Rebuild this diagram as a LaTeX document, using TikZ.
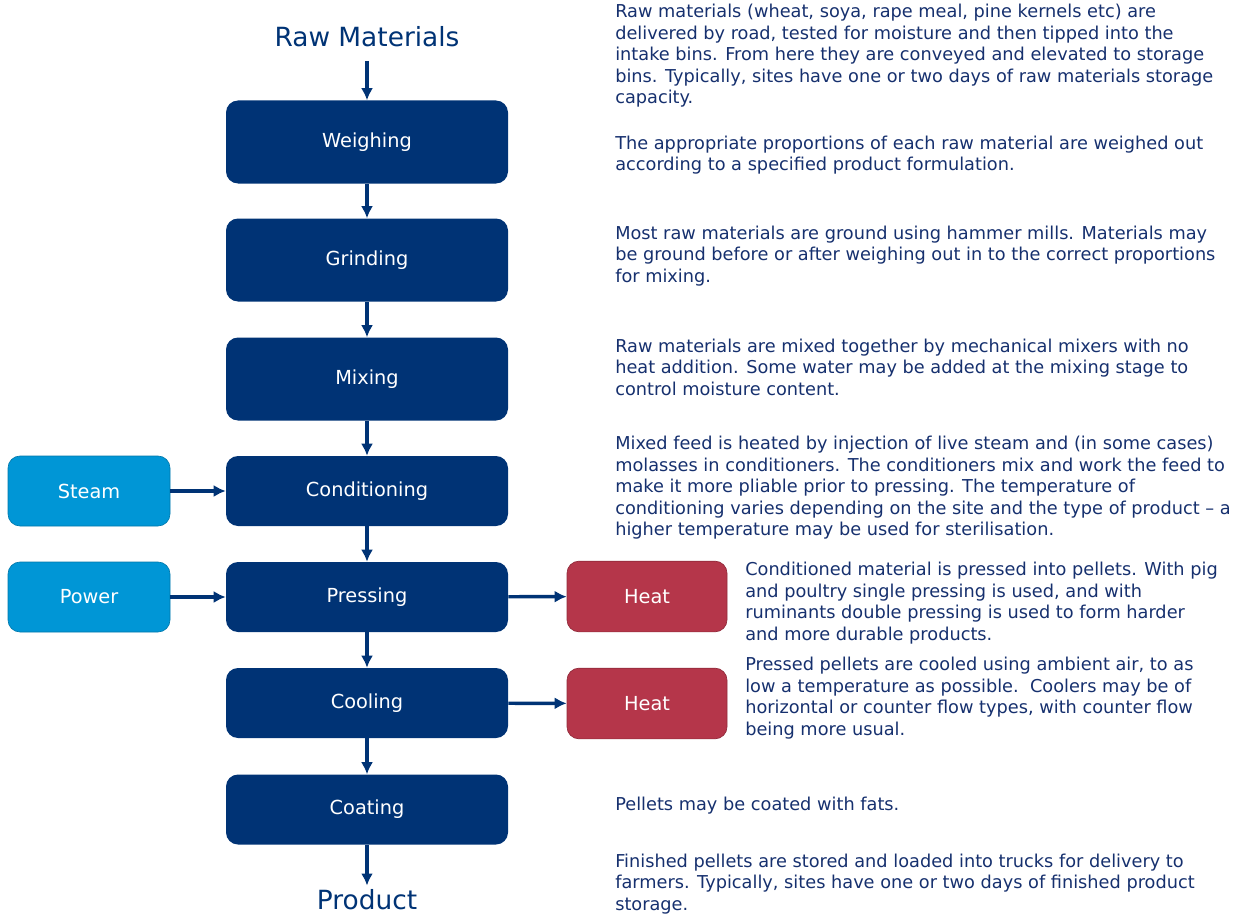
\documentclass[tikz,border=0pt]{standalone}
\usepackage{fontspec}
\setmainfont{DejaVu Sans}
\usetikzlibrary{arrows.meta}
\definecolor{procblue}{RGB}{0,51,117}
\definecolor{srcblue}{RGB}{0,150,214}
\definecolor{heatred}{RGB}{181,54,74}
\definecolor{txtblue}{RGB}{22,48,110}
\begin{document}
\begin{tikzpicture}[x=0.75pt,y=-0.75pt,>/.tip={Latex[length=9pt,width=9pt]},
	proc/.style={shape=rectangle,rounded corners=9pt,fill=procblue,text=white,minimum width=211.5pt,font=\fontsize{14.5}{16}\selectfont},
	srcbox/.style={shape=rectangle,rounded corners=9pt,fill=srcblue,draw=srcblue!80!black,line width=0.5pt,text=white,minimum width=121.5pt,minimum height=52.5pt,font=\fontsize{14.5}{16}\selectfont},
	heatbox/.style={shape=rectangle,rounded corners=9pt,fill=heatred,draw=heatred!80!black,line width=0.5pt,text=white,minimum width=120pt,minimum height=53pt,font=\fontsize{14.5}{16}\selectfont},
	term/.style={text=procblue,font=\fontsize{19.8}{22}\selectfont},
	desc/.style={anchor=west,align=left,inner sep=0pt,text=txtblue,font=\fontsize{13.3}{16.1}\selectfont},
	flow/.style={->,draw=procblue,line width=2.6pt}]
	\useasboundingbox (0,0) rectangle (1240,917);
	\draw (367,37) node (raw) [term,inner sep=10pt] {Raw Materials};
	\draw (367,142) node (weigh) [proc,minimum height=62.25pt] {Weighing};
	\draw (367,260) node (grind) [proc,minimum height=62.25pt] {Grinding};
	\draw (367,379) node (mix) [proc,minimum height=62.25pt] {Mixing};
	\draw (367,491) node (cond) [proc,minimum height=52.5pt] {Conditioning};
	\draw (367,597) node (press) [proc,minimum height=52.5pt] {Pressing};
	\draw (367,703) node (cool) [proc,minimum height=52.5pt] {Cooling};
	\draw (367,809.5) node (coat) [proc,minimum height=52.5pt] {Coating};
	\draw (367,900) node (prod) [term,inner sep=3pt] {Product};
	\draw (89,491) node (steam) [srcbox] {Steam};
	\draw (89,597) node (power) [srcbox] {Power};
	\draw (647,596.5) node (heatA) [heatbox] {Heat};
	\draw (647,703.5) node (heatB) [heatbox] {Heat};
	\draw[flow] (raw) -- (weigh);
	\draw[flow] (weigh) -- (grind);
	\draw[flow] (grind) -- (mix);
	\draw[flow] (mix) -- (cond);
	\draw[flow] (cond) -- (press);
	\draw[flow] (press) -- (cool);
	\draw[flow] (cool) -- (coat);
	\draw[flow] (coat) -- (prod);
	\draw[flow] (steam) -- (cond);
	\draw[flow] (power) -- (press);
	\draw[flow] (press) -- (heatA);
	\draw[flow] (cool) -- (heatB);
	\draw (615,56) node (dRaw) [desc] {Raw materials (wheat, soya, rape meal, pine kernels etc) are\\delivered by road, tested for moisture and then tipped into the\\intake bins. From here they are conveyed and elevated to storage\\bins. Typically, sites have one or two days of raw materials storage\\capacity.};
	\draw (615,155) node (dWeigh) [desc] {The appropriate proportions of each raw material are weighed out\\according to a specified product formulation.};
	\draw (615,256) node (dGrind) [desc] {Most raw materials are ground using hammer mills. Materials may\\be ground before or after weighing out in to the correct proportions\\for mixing.};
	\draw (615,367) node (dMix) [desc] {Raw materials are mixed together by mechanical mixers with no\\heat addition. Some water may be added at the mixing stage to\\control moisture content.};
	\draw (615,488) node (dCond) [desc] {Mixed feed is heated by injection of live steam and (in some cases)\\molasses in conditioners. The conditioners mix and work the feed to\\make it more pliable prior to pressing. The temperature of\\conditioning varies depending on the site and the type of product – a\\higher temperature may be used for sterilisation.};
	\draw (745,603) node (dPress) [desc] {Conditioned material is pressed into pellets. With pig\\and poultry single pressing is used, and with\\ruminants double pressing is used to form harder\\and more durable products.};
	\draw (745,698) node (dCool) [desc] {Pressed pellets are cooled using ambient air, to as\\low a temperature as possible.\ \ Coolers may be of\\horizontal or counter flow types, with counter flow\\being more usual.};
	\draw (615,806) node (dCoat) [desc] {Pellets may be coated with fats.};
	\draw (615,884) node (dProd) [desc] {Finished pellets are stored and loaded into trucks for delivery to\\farmers. Typically, sites have one or two days of finished product\\storage.};
\end{tikzpicture}
\end{document}
